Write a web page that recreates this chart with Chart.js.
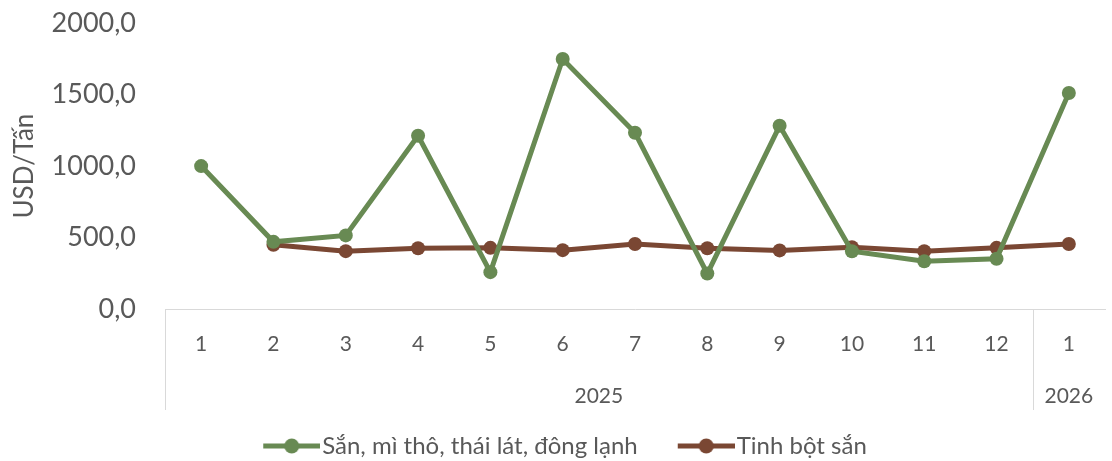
<!DOCTYPE html>
<html>
<head>
<meta charset="utf-8">
<script src="https://cdn.jsdelivr.net/npm/chart.js@4.4.1/dist/chart.umd.min.js"></script>
<style>
  html, body { margin: 0; padding: 0; background: #ffffff; }
  #wrap { width: 1112px; height: 461px; position: relative; }
</style>
</head>
<body>
<div id="wrap"><canvas id="c" width="1112" height="461"></canvas></div>
<script>
const months = ['1','2','3','4','5','6','7','8','9','10','11','12','1'];
const yearLabels = ['2025','2026'];
const yearSpans = [12, 1];
const cassavaChips = [1000, 470, 515, 1212, 258, 1749, 1233, 248, 1282, 404, 334, 352, 1512];
const cassavaStarch = [null, 450, 405, 425, 428, 412, 455, 425, 410, 432, 405, 428, 455];
const yTicks = [0, 500, 1000, 1500, 2000];
const seriesNames = ['Sắn, mì thô, thái lát, đông lạnh', 'Tinh bột sắn'];
const yTitle = 'USD/Tấn';

const GREEN = '#688a53';
const BROWN = '#7a4733';
const TEXT = '#595959';
const AXIS = '#d9d9d9';
const FONT = "Lato, 'Open Sans', sans-serif";
const LEG_BOX = 65;

function legendMarker(color) {
  const W = LEG_BOX + 20;
  const c = document.createElement('canvas');
  c.width = W; c.height = 18;
  const g = c.getContext('2d');
  const x0 = W - 57;
  g.strokeStyle = color; g.lineWidth = 5; g.lineCap = 'butt';
  g.beginPath(); g.moveTo(x0, 9); g.lineTo(W, 9); g.stroke();
  g.fillStyle = color;
  g.beginPath(); g.arc(x0 + 28.5, 9, 7.5, 0, Math.PI * 2); g.fill();
  return c;
}

const yearAxisPlugin = {
  id: 'yearAxis',
  afterDraw(chart) {
    const x = chart.scales.x;
    const ctx = chart.ctx;
    const top = chart.chartArea.bottom;
    const bottom = top + 101;
    const half = (x.getPixelForValue(1) - x.getPixelForValue(0)) / 2;
    ctx.save();
    ctx.strokeStyle = AXIS;
    ctx.lineWidth = 1;
    let idx = 0;
    const bounds = [idx];
    yearSpans.forEach(s => { idx += s; bounds.push(idx); });
    bounds.forEach((b, i) => {
      if (i === bounds.length - 1) return;
      const px = Math.round(x.getPixelForValue(b) - half) + 0.5;
      ctx.beginPath(); ctx.moveTo(px, top); ctx.lineTo(px, bottom); ctx.stroke();
    });
    ctx.fillStyle = TEXT;
    ctx.font = "21px " + FONT;
    ctx.textAlign = 'center';
    ctx.textBaseline = 'middle';
    yearLabels.forEach((lab, i) => {
      const l = x.getPixelForValue(bounds[i]) - half;
      const r = x.getPixelForValue(bounds[i + 1] - 1) + half;
      ctx.fillText(lab, (l + r) / 2, top + 87);
    });
    ctx.restore();
  }
};

new Chart(document.getElementById('c'), {
  type: 'line',
  data: {
    labels: months,
    datasets: [
      { label: seriesNames[0], data: cassavaChips, borderColor: GREEN, backgroundColor: GREEN,
        borderWidth: 5, pointRadius: 7, pointHoverRadius: 7, pointBackgroundColor: GREEN,
        pointBorderWidth: 0, tension: 0, pointStyle: 'circle' },
      { label: seriesNames[1], data: cassavaStarch, borderColor: BROWN, backgroundColor: BROWN,
        borderWidth: 5, pointRadius: 7, pointHoverRadius: 7, pointBackgroundColor: BROWN,
        pointBorderWidth: 0, tension: 0, pointStyle: 'circle' }
    ]
  },
  options: {
    responsive: false,
    animation: false,
    events: [],
    layout: { padding: { top: 0, right: 0, bottom: -7, left: 0 } },
    scales: {
      x: {
        type: 'category',
        offset: true,
        grid: { display: false, drawTicks: false },
        border: { display: true, color: AXIS, width: 1 },
        ticks: { color: TEXT, padding: 23, maxRotation: 0, autoSkip: false,
                 font: { family: FONT, size: 21 } },
        afterFit(scale) { scale.height = 121; }
      },
      y: {
        min: 0, max: 2000,
        afterBuildTicks(scale) { scale.ticks = yTicks.map(v => ({ value: v })); },
        grid: { display: true, drawOnChartArea: false, drawTicks: true, tickLength: 22,
                tickColor: 'rgba(0,0,0,0)', color: 'rgba(0,0,0,0)' },
        border: { display: false },
        ticks: { color: TEXT, padding: 7,
                 font: { family: FONT, size: 27 },
                 callback: v => v.toFixed(1).replace('.', ',') },
        title: { display: true, text: yTitle, color: TEXT,
                 font: { family: FONT, size: 26 }, padding: { top: 9, bottom: 0 } },
        afterFit(scale) { scale.width = 165; }
      }
    },
    plugins: {
      tooltip: { enabled: false },
      legend: {
        position: 'bottom',
        labels: {
          color: TEXT,
          font: { family: FONT, size: 24 },
          padding: 4,
          usePointStyle: true,
          pointStyleWidth: LEG_BOX,
          generateLabels(chart) {
            return chart.data.datasets.map((ds, i) => ({
              text: ds.label + (i === 0 ? '\u2003' : ''),
              fillStyle: ds.borderColor,
              strokeStyle: ds.borderColor,
              fontColor: TEXT,
              pointStyle: legendMarker(ds.borderColor),
              datasetIndex: i,
              hidden: false
            }));
          }
        }
      }
    }
  },
  plugins: [yearAxisPlugin]
});
</script>
</body>
</html>
